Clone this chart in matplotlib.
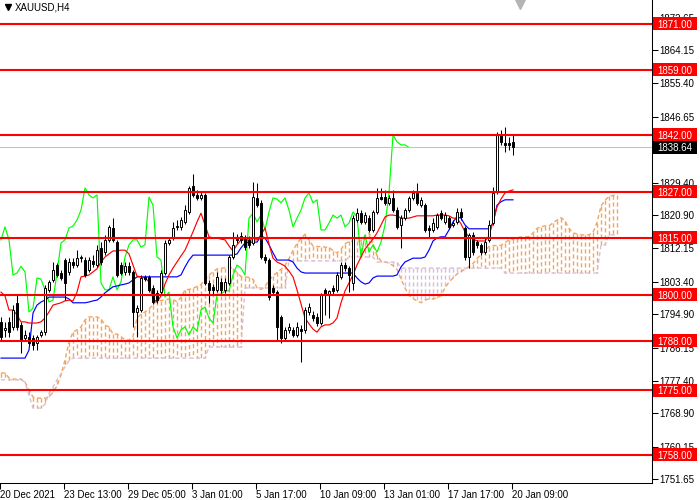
import matplotlib
matplotlib.use('Agg')
import matplotlib.pyplot as plt
from matplotlib.patches import Rectangle
from matplotlib.lines import Line2D
from matplotlib.transforms import blended_transform_factory
import numpy as np

plt.rcParams['font.family'] = ['Liberation Sans', 'DejaVu Sans']
plt.rcParams['lines.scale_dashes'] = False

symbol_title = 'XAUUSD,H4'
date_labels = ['20 Dec 2021', '23 Dec 13:00', '29 Dec 05:00', '3 Jan 01:00', '5 Jan 17:00',
               '10 Jan 09:00', '13 Jan 01:00', '17 Jan 17:00', '20 Jan 09:00']
date_bars = [0, 16, 32, 48, 64, 80, 96, 112, 128]
price_ticks = [1872.65, 1864.15, 1855.40, 1846.65, 1829.40, 1820.90, 1812.15, 1803.40,
               1794.90, 1786.15, 1777.40, 1768.90, 1760.15, 1751.65]
levels = [1871.00, 1859.00, 1842.00, 1827.00, 1815.00, 1800.00, 1788.00, 1775.00, 1758.00]
last_price = 1838.64
shift = 26

opens = [1792.9, 1790.8, 1792.9, 1791.6, 1797.9, 1792.1, 1788.7, 1788.9, 1788.7, 1787.4,
         1789.5, 1790.2, 1801.3, 1803.9, 1807.8, 1805.7, 1809.1, 1806.0, 1808.6, 1807.8,
         1809.6, 1809.1, 1806.5, 1808.8, 1807.8, 1812.3, 1811.2, 1814.4, 1817.5, 1813.8,
         1807.8, 1806.0, 1807.5, 1806.0, 1795.5, 1796.0, 1804.7, 1804.7, 1801.8, 1800.5,
         1800.7, 1805.7, 1813.6, 1815.2, 1817.8, 1817.8, 1819.1, 1821.7, 1828.5, 1826.2,
         1825.4, 1826.2, 1803.1, 1802.1, 1801.3, 1803.4, 1801.3, 1803.1, 1809.9, 1814.9,
         1815.4, 1814.9, 1814.4, 1813.6, 1825.4, 1824.1, 1809.9, 1809.1, 1801.8, 1800.7,
         1794.2, 1788.7, 1790.8, 1790.8, 1789.5, 1791.0, 1790.8, 1795.5, 1794.7, 1794.2,
         1792.6, 1801.3, 1800.2, 1801.8, 1801.3, 1804.7, 1807.8, 1807.0, 1803.1, 1819.6,
         1821.4, 1819.1, 1820.1, 1817.0, 1821.7, 1825.6, 1825.6, 1824.1, 1825.4, 1822.2,
         1818.3, 1820.1, 1822.2, 1825.4, 1827.0, 1823.5, 1823.5, 1817.5, 1817.0, 1817.8,
         1821.4, 1819.1, 1820.1, 1818.3, 1819.1, 1821.7, 1817.5, 1809.9, 1815.7, 1813.8,
         1813.1, 1811.2, 1814.4, 1818.8, 1827.0, 1841.9, 1839.8, 1839.8, 1840.1]
highs = [1794.2, 1792.9, 1794.2, 1797.3, 1800.0, 1792.9, 1790.8, 1790.2, 1789.5, 1789.5,
         1790.8, 1802.6, 1803.9, 1808.6, 1808.3, 1806.5, 1809.6, 1809.6, 1809.6, 1811.7,
         1810.4, 1809.9, 1809.9, 1810.4, 1813.1, 1813.8, 1815.7, 1818.3, 1820.1, 1814.4,
         1808.6, 1808.6, 1808.6, 1806.5, 1797.3, 1805.2, 1805.2, 1805.2, 1802.6, 1801.3,
         1806.5, 1814.4, 1815.2, 1819.1, 1819.6, 1820.4, 1823.5, 1828.5, 1831.7, 1827.5,
         1827.0, 1826.7, 1803.9, 1802.8, 1806.0, 1804.4, 1804.4, 1810.4, 1816.5, 1816.0,
         1816.5, 1815.7, 1815.4, 1829.6, 1829.3, 1824.9, 1810.7, 1809.6, 1802.6, 1801.3,
         1794.7, 1791.6, 1792.6, 1791.6, 1792.9, 1792.1, 1796.8, 1797.9, 1795.8, 1795.2,
         1800.5, 1801.8, 1801.3, 1802.6, 1806.0, 1808.6, 1808.6, 1807.5, 1820.9, 1822.8,
         1822.2, 1821.7, 1820.9, 1822.2, 1828.0, 1828.0, 1827.5, 1826.2, 1827.5, 1823.0,
         1820.9, 1822.8, 1825.9, 1827.5, 1829.3, 1825.6, 1824.1, 1818.3, 1820.1, 1821.4,
         1822.2, 1821.7, 1820.7, 1819.6, 1822.8, 1822.8, 1818.0, 1816.2, 1816.5, 1814.4,
         1813.6, 1814.9, 1819.6, 1828.3, 1842.7, 1843.2, 1844.0, 1841.4, 1841.9]
lows = [1788.1, 1788.9, 1788.9, 1790.8, 1790.8, 1784.7, 1788.1, 1786.8, 1785.5, 1785.5,
        1788.9, 1789.5, 1800.7, 1803.4, 1804.7, 1803.9, 1798.6, 1805.2, 1807.0, 1807.3,
        1808.6, 1804.7, 1806.0, 1807.3, 1807.3, 1807.8, 1810.4, 1813.8, 1813.8, 1804.7,
        1805.2, 1805.2, 1805.2, 1791.6, 1788.9, 1795.5, 1803.6, 1800.7, 1797.6, 1797.9,
        1800.0, 1805.2, 1813.1, 1814.4, 1817.0, 1817.0, 1818.6, 1821.2, 1825.6, 1824.9,
        1824.9, 1802.6, 1797.9, 1800.0, 1800.7, 1800.5, 1800.5, 1802.6, 1809.4, 1813.6,
        1813.6, 1811.7, 1812.3, 1813.1, 1823.0, 1809.4, 1808.3, 1798.6, 1800.0, 1788.1,
        1787.4, 1787.9, 1790.0, 1788.9, 1788.9, 1782.4, 1790.0, 1794.7, 1793.1, 1791.8,
        1792.1, 1794.7, 1793.9, 1800.2, 1800.7, 1804.1, 1806.2, 1800.7, 1801.3, 1819.1,
        1818.6, 1818.6, 1816.5, 1816.5, 1821.2, 1824.9, 1823.5, 1823.5, 1821.7, 1817.3,
        1812.3, 1819.6, 1821.7, 1824.9, 1823.5, 1823.0, 1816.5, 1814.9, 1816.5, 1817.3,
        1819.6, 1818.6, 1817.3, 1817.8, 1818.6, 1819.6, 1809.1, 1807.0, 1810.4, 1812.3,
        1810.4, 1810.7, 1813.8, 1818.3, 1826.4, 1839.3, 1837.4, 1838.0, 1836.6]
closes = [1788.9, 1791.3, 1790.2, 1796.0, 1791.6, 1788.1, 1789.5, 1787.4, 1786.8, 1788.9,
          1790.2, 1801.8, 1803.4, 1806.5, 1805.2, 1804.4, 1803.1, 1808.6, 1807.8, 1809.6,
          1809.9, 1805.2, 1809.1, 1808.1, 1811.7, 1808.6, 1814.4, 1817.8, 1814.4, 1805.2,
          1805.7, 1807.5, 1806.0, 1795.5, 1796.5, 1804.4, 1804.1, 1801.3, 1798.1, 1798.6,
          1805.7, 1813.6, 1814.4, 1817.5, 1818.0, 1819.6, 1822.2, 1828.0, 1826.2, 1825.4,
          1826.2, 1803.1, 1801.3, 1801.3, 1804.7, 1801.3, 1803.4, 1809.9, 1813.1, 1814.4,
          1814.4, 1812.5, 1813.1, 1825.6, 1823.5, 1809.9, 1809.1, 1799.4, 1800.7, 1791.6,
          1788.7, 1790.8, 1791.6, 1789.5, 1791.6, 1790.5, 1796.0, 1796.8, 1793.9, 1792.6,
          1800.0, 1800.2, 1801.0, 1801.0, 1805.2, 1807.8, 1807.0, 1805.2, 1820.1, 1821.4,
          1819.1, 1820.9, 1817.0, 1821.7, 1825.4, 1825.1, 1824.1, 1825.4, 1822.2, 1817.8,
          1820.1, 1822.2, 1825.4, 1826.7, 1824.1, 1824.9, 1817.0, 1817.0, 1818.8, 1820.9,
          1820.1, 1820.9, 1817.8, 1818.8, 1821.7, 1820.4, 1809.9, 1815.7, 1811.2, 1813.1,
          1811.2, 1813.8, 1818.3, 1826.7, 1841.9, 1840.1, 1839.3, 1839.3, 1838.64]

tenkan = [1800.7, 1799.7, 1796.0, 1796.0, 1794.7, 1792.9, 1792.9, 1792.6, 1792.6, 1792.6,
          1792.9, 1793.9, 1795.5, 1797.3, 1797.6, 1797.9, 1798.4, 1798.6, 1798.4, 1800.7,
          1804.7, 1804.9, 1805.2, 1806.0, 1806.8, 1808.6, 1809.9, 1810.7, 1811.5, 1811.5,
          1811.7, 1811.7, 1810.7, 1807.8, 1804.9, 1804.7, 1804.4, 1803.4, 1798.9, 1798.1,
          1799.7, 1802.8, 1805.2, 1807.0, 1808.6, 1810.2, 1811.7, 1814.1, 1816.5, 1819.1,
          1821.4, 1818.3, 1815.2, 1814.9, 1814.9, 1814.6, 1814.4, 1812.8, 1811.5, 1813.1,
          1814.4, 1814.4, 1814.4, 1814.4, 1814.4, 1815.7, 1817.5, 1813.3, 1809.6, 1808.6,
          1808.1, 1807.5, 1806.2, 1804.7, 1801.3, 1797.6, 1793.9, 1792.4, 1791.0, 1790.2,
          1791.6, 1792.1, 1792.1, 1792.6, 1793.9, 1797.9, 1801.0, 1803.1, 1805.2, 1807.8,
          1809.9, 1812.0, 1813.3, 1814.6, 1816.2, 1818.3, 1820.4, 1820.9, 1820.9, 1820.7,
          1820.1, 1820.1, 1820.1, 1820.4, 1820.7, 1820.7, 1820.7, 1820.7, 1820.7, 1820.9,
          1820.9, 1820.9, 1820.7, 1820.1, 1820.1, 1818.6, 1816.5, 1815.2, 1814.6, 1814.1,
          1814.1, 1814.1, 1815.4, 1819.1, 1823.0, 1825.1, 1826.7, 1827.2, 1827.5]
kijun = [1783.4, 1783.4, 1783.4, 1783.4, 1783.4, 1783.4, 1783.4, 1785.5, 1795.2, 1797.3,
         1798.1, 1798.6, 1799.4, 1799.4, 1799.4, 1799.4, 1799.4, 1798.9, 1797.9, 1797.9,
         1797.9, 1797.9, 1798.1, 1798.4, 1798.6, 1799.4, 1800.5, 1801.3, 1802.1, 1802.3,
         1802.6, 1802.8, 1803.1, 1803.9, 1804.7, 1804.7, 1804.7, 1804.7, 1804.7, 1804.7,
         1804.7, 1804.7, 1804.7, 1804.7, 1804.7, 1805.2, 1807.3, 1809.1, 1810.4, 1810.4,
         1810.4, 1810.4, 1810.4, 1810.4, 1810.4, 1810.4, 1810.4, 1810.4, 1810.4, 1810.7,
         1812.3, 1813.6, 1813.8, 1813.8, 1813.8, 1815.4, 1814.9, 1813.1, 1811.0, 1809.1,
         1809.1, 1809.1, 1809.1, 1808.6, 1807.0, 1806.0, 1805.7, 1805.7, 1805.7, 1805.7,
         1805.7, 1805.7, 1805.7, 1805.7, 1805.7, 1805.7, 1805.7, 1805.7, 1805.7, 1804.4,
         1803.4, 1802.8, 1803.1, 1804.4, 1804.9, 1804.9, 1804.9, 1804.9, 1804.9, 1805.2,
         1807.3, 1808.6, 1809.1, 1809.6, 1809.6, 1809.6, 1809.9, 1811.7, 1814.1, 1814.9,
         1815.2, 1815.2, 1817.0, 1819.1, 1820.4, 1820.1, 1818.3, 1817.3, 1817.3, 1817.3,
         1817.3, 1817.3, 1817.3, 1818.8, 1823.5, 1824.4, 1824.9, 1824.9, 1824.9]
# leading span A for the first 26 bars (its source lies before the visible window)
span_a_early = [1779.5, 1779.5, 1778.2, 1777.9, 1777.9, 1777.9, 1777.1, 1775.0, 1773.2, 1772.9,
                1772.9, 1772.9, 1773.2, 1774.5, 1776.1, 1779.0, 1782.9, 1787.6, 1790.2, 1790.8,
                1791.6, 1793.4, 1794.2, 1794.2, 1794.2, 1793.7]
span_b = [1777.7, 1777.7, 1777.7, 1777.7, 1777.7, 1777.7, 1777.1, 1773.7, 1770.3, 1770.3,
          1770.3, 1771.3, 1774.2, 1775.8, 1777.7, 1779.3, 1781.1, 1782.7, 1783.4, 1783.4,
          1783.4, 1783.4, 1783.4, 1783.4, 1783.4, 1783.4, 1783.4, 1783.4, 1783.4, 1783.4,
          1783.4, 1783.4, 1783.4, 1783.4, 1783.4, 1783.4, 1783.4, 1783.4, 1783.4, 1783.4,
          1783.4, 1783.4, 1783.4, 1783.4, 1783.4, 1783.4, 1783.4, 1783.4, 1783.4, 1783.4,
          1783.4, 1783.4, 1786.3, 1786.3, 1786.3, 1786.3, 1786.3, 1786.3, 1786.3, 1786.3,
          1786.3, 1801.8, 1801.8, 1801.8, 1801.8, 1801.8, 1801.8, 1801.8, 1801.8, 1801.8,
          1801.8, 1801.8, 1808.9, 1808.9, 1808.9, 1808.9, 1808.9, 1808.9, 1808.9, 1808.9,
          1808.9, 1808.9, 1808.9, 1808.9, 1808.9, 1808.9, 1808.9, 1809.9, 1809.9, 1809.9,
          1809.9, 1809.9, 1809.9, 1809.9, 1808.6, 1808.6, 1808.6, 1808.6, 1808.6, 1808.6,
          1807.0, 1807.0, 1807.0, 1807.0, 1807.0, 1807.0, 1807.0, 1807.0, 1807.0, 1807.0,
          1807.0, 1807.0, 1807.0, 1807.0, 1807.0, 1807.0, 1807.0, 1807.0, 1807.0, 1807.0,
          1807.0, 1807.0, 1807.0, 1807.0, 1807.0, 1807.0, 1805.7, 1805.7, 1805.7, 1805.7,
          1805.7, 1805.7, 1805.7, 1805.7, 1805.7, 1805.7, 1805.7, 1805.7, 1805.7, 1805.7,
          1805.7, 1805.7, 1805.7, 1805.7, 1805.7, 1805.7, 1805.7, 1805.7, 1805.7, 1805.7,
          1813.1, 1813.1, 1815.7, 1815.7, 1815.7]

o = np.array(opens); h = np.array(highs); l = np.array(lows); c = np.array(closes)
tk = np.array(tenkan); kj = np.array(kijun)
n = len(c)
x = np.arange(n)
span_a = np.concatenate([np.array(span_a_early), (tk + kj) / 2.0])
sb = np.array(span_b)
xa = np.arange(len(span_a))

W, H = 700, 500
fig = plt.figure(figsize=(7, 5), dpi=100)
ax = fig.add_axes([0, 17 / H, 652 / W, 483 / H])
ax.set_xlim(-0.25, 162.75)
ax.set_ylim(1750.65, 1877.29)

ORANGE = '#F4A460'
THISTLE = '#D8BFD8'
dash = (0, (3.0, 2.0))

# cloud (vertical dotted histogram between the two leading spans)
lo = np.minimum(span_a, sb)
hi = np.maximum(span_a, sb)
cols = [ORANGE if a >= b else THISTLE for a, b in zip(span_a, sb)]
ax.vlines(xa, hi, lo, colors=cols, linestyles=[dash], lw=1.0, zorder=1)
ax.plot(xa, span_a, color=ORANGE, ls=dash, lw=1.0, zorder=1.2)
ax.plot(xa, sb, color=THISTLE, ls=dash, lw=1.0, zorder=1.2)

# lines
ax.plot(x[:n - shift], c[shift:], color='#00FF00', lw=0.85, zorder=2)
ax.plot(x, kj, color='#0000FF', lw=0.85, zorder=2.1)
ax.plot(x, tk, color='#FF0000', lw=0.85, zorder=2.2)

# candles
up = c >= o
ax.vlines(x, l, h, color='black', lw=0.75, zorder=3)
bottom = np.minimum(o, c)
height = np.maximum(np.abs(c - o), 0.08)
ax.bar(x, height, bottom=bottom, width=0.72,
       color=['white' if u else 'black' for u in up],
       edgecolor='black', linewidth=0.7, zorder=3.5)

# levels
for lv in levels:
    ax.axhline(lv, color='#FF0000', lw=1.5, zorder=4)
ax.axhline(last_price, color='#C0C0C0', lw=0.75, zorder=2.5)

# axes styling
for s in ['top', 'left']:
    ax.spines[s].set_visible(False)
ax.spines['right'].set_linewidth(0.75)
ax.spines['bottom'].set_linewidth(0.75)
ax.yaxis.tick_right()
ax.set_yticks(price_ticks)
ax.set_yticklabels(['%.2f' % v for v in price_ticks])
ax.tick_params(axis='y', direction='out', length=4, width=0.75, pad=1.5, labelsize=7,
               right=True, left=False, labelright=True, labelleft=False)
ax.set_xticks(np.array(date_bars) - 0.25)
ax.set_xticklabels(date_labels, ha='left')
ax.tick_params(axis='x', direction='out', length=4, width=0.75, pad=1, labelsize=7)

# price labels on the right scale
trans = blended_transform_factory(ax.transAxes, ax.transData)
bw = 44 / 652
bh = 13 / (483 / (1877.29 - 1750.65))
def price_box(val, face):
    ax.add_patch(Rectangle((1 + 1 / 652, val - bh / 2), bw, bh, transform=trans,
                           facecolor=face, edgecolor='none', clip_on=False, zorder=5))
    ax.text(1 + 1 / 652 + bw / 2, val, '%.2f' % val, transform=trans, color='white',
            fontsize=7, ha='center', va='center_baseline', zorder=6, clip_on=False)
for lv in levels:
    price_box(lv, '#FF0000')
price_box(last_price, '#000000')

# title and markers
fig.text(15 / W, 1 - 7.5 / H, symbol_title, ha='left', va='center', fontsize=7, color='black')
fig.add_artist(Line2D([7.5 / W], [1 - 7 / H], marker='v', ms=4.5, color='black',
                      transform=fig.transFigure))
fig.add_artist(Line2D([520 / W], [1 - 3 / H], marker='v', ms=8, color='#B4B4B4',
                      transform=fig.transFigure))

fig.savefig('out.png', dpi=100)
